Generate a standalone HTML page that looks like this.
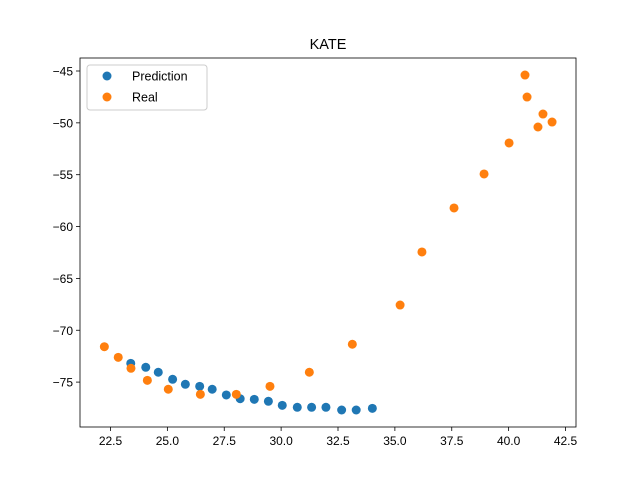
<!DOCTYPE html>
<html><head><meta charset="utf-8"><style>body{margin:0;background:#fff}svg{font-family:"Liberation Sans","DejaVu Sans",sans-serif}</style></head>
<body>
<svg id="c" width="640" height="480"></svg>
<script>
const predX=[23.39,24.05,24.60,25.23,25.79,26.42,26.97,27.59,28.20,28.82,29.44,30.05,30.71,31.34,31.97,32.66,33.30,34.01];
const predY=[-73.19,-73.57,-74.05,-74.73,-75.21,-75.41,-75.69,-76.24,-76.60,-76.66,-76.85,-77.24,-77.43,-77.43,-77.43,-77.69,-77.69,-77.53];
const realX=[22.23,22.84,23.40,24.12,25.04,26.45,28.03,29.51,31.24,33.13,35.23,36.19,37.60,38.92,40.02,40.72,40.81,41.29,41.51,41.91];
const realY=[-71.59,-72.61,-73.67,-74.83,-75.69,-76.18,-76.18,-75.41,-74.05,-71.35,-67.57,-62.45,-58.21,-54.93,-51.94,-45.39,-47.51,-50.40,-49.15,-49.92];
const xTicks=[22.5,25.0,27.5,30.0,32.5,35.0,37.5,40.0,42.5];
const yTicks=[-45,-50,-55,-60,-65,-70,-75];
const L=80,R=576,T=58,B=427;
const sx=v=>110.5+(v-22.5)*22.75;
const sy=v=>71+(-45-v)*10.37;
const svg=document.getElementById('c');const NS='http://www.w3.org/2000/svg';
function mk(t,a,p){const e=document.createElementNS(NS,t);for(const k in a)e.setAttribute(k,a[k]);(p||svg).appendChild(e);return e;}
let e;
xTicks.forEach(v=>{const x=sx(v);
e=mk('line',{x1:x,x2:x,y1:B,y2:B+4,stroke:'#000','stroke-width':0.8});


e=mk('text',{x:x,y:B+18,'text-anchor':'middle','font-size':12});e.textContent=v.toFixed(1);

});
yTicks.forEach(v=>{const y=sy(v);
e=mk('line',{x1:L-4,x2:L,y1:y,y2:y,stroke:'#000','stroke-width':0.8});


e=mk('text',{x:L-7,y:y+4.5,'text-anchor':'end','font-size':12});e.textContent='\u2212'+Math.abs(v);

});
predX.forEach((v,i)=>{e=mk('circle',{cx:sx(v),cy:sy(predY[i]),r:4.5,fill:'#1f77b4'});

});
realX.forEach((v,i)=>{e=mk('circle',{cx:sx(v),cy:sy(realY[i]),r:4.5,fill:'#ff7f0e'});

});
e=mk('rect',{x:L,y:T,width:R-L,height:B-T,fill:'none',stroke:'#000','stroke-width':0.8});


e=mk('text',{x:328,y:49,'text-anchor':'middle','font-size':14.5});e.textContent='KATE';


const g=mk('g',{});


mk('rect',{x:87,y:65,width:120,height:45,rx:3,fill:'#fff','fill-opacity':0.8,stroke:'#ccc'},g);
mk('circle',{cx:107,cy:76,r:4.5,fill:'#1f77b4'},g);
e=mk('text',{x:132,y:80.5,'font-size':12.5},g);e.textContent='Prediction';


mk('circle',{cx:107,cy:97,r:4.5,fill:'#ff7f0e'},g);
e=mk('text',{x:132,y:101.5,'font-size':12.5},g);e.textContent='Real';


</script>
</body></html>
